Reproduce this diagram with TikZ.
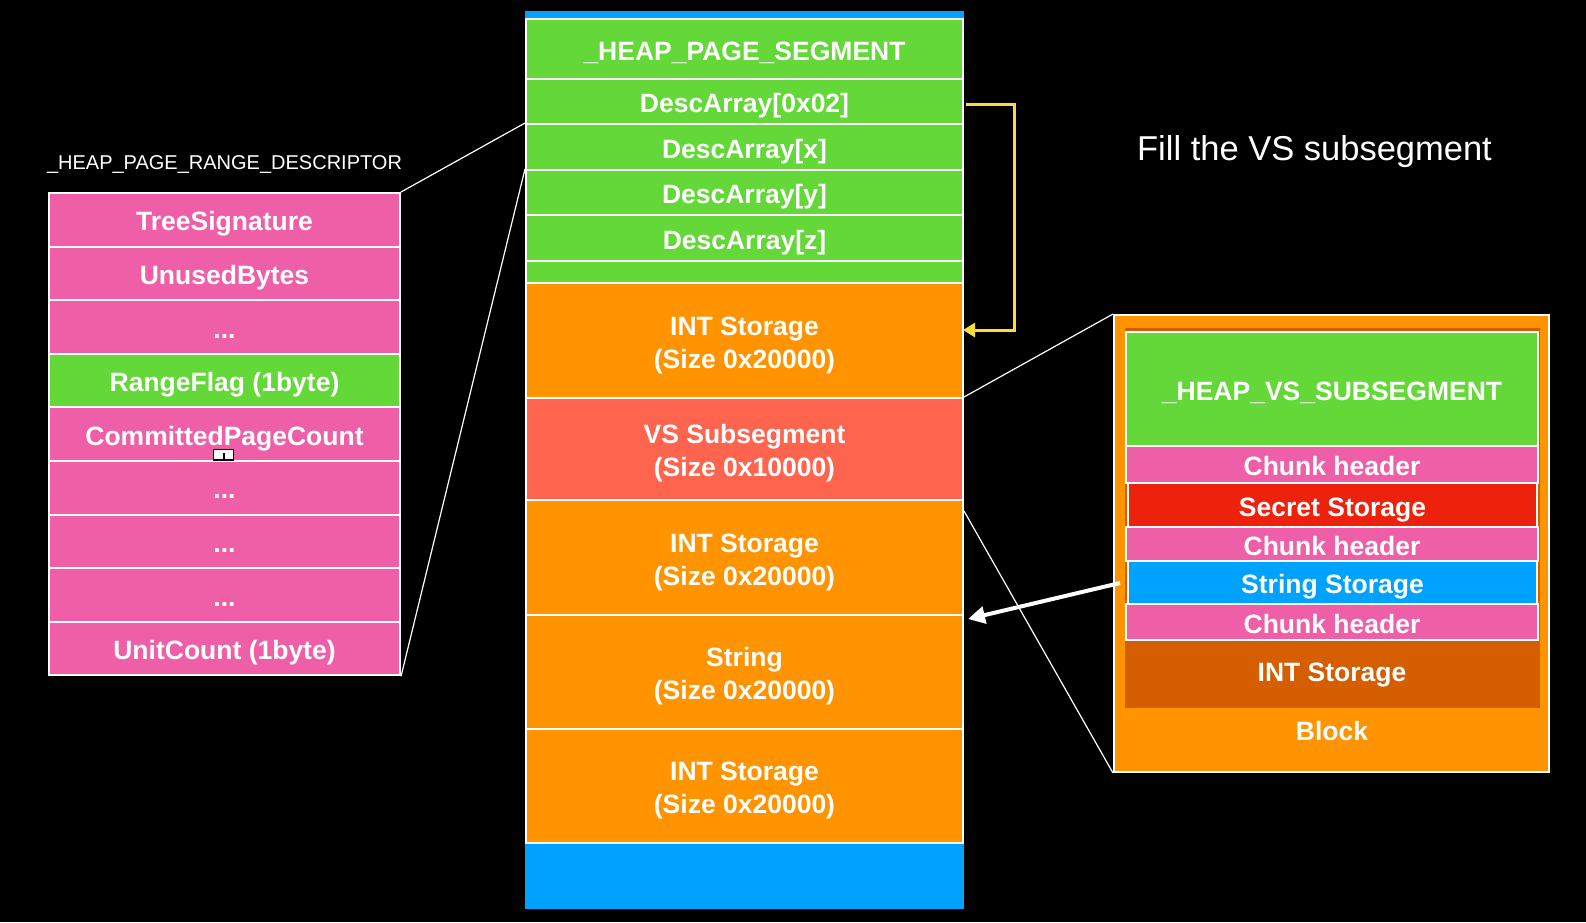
\documentclass[tikz,border=0pt]{standalone}
\usepackage{fontspec}
\setmainfont{Liberation Sans}
\usetikzlibrary{arrows.meta,calc}
\definecolor{cgreen}{HTML}{63D838}
\definecolor{cpink}{HTML}{EF5FA7}
\definecolor{corange}{HTML}{FF9300}
\definecolor{cblue}{HTML}{00A2FF}
\definecolor{csalmon}{HTML}{FF644E}
\definecolor{cred}{HTML}{EE220C}
\definecolor{cdark}{HTML}{D55E00}
\definecolor{cyellow}{HTML}{FCDC3A}
\newcommand\lbl{\bfseries\fontsize{26.5}{33}\selectfont}
\newcommand\T[1]{\raisebox{0pt}[\height][\dimexpr\depth-9pt\relax]{\begin{tabular}{@{}c@{}}#1\end{tabular}}}
\tikzset{
  box/.style={draw=white, line width=2pt, inner sep=0pt, text=white, font=\lbl},
  ccell/.style={box, minimum width=437pt},
  lcell/.style={box, minimum width=351pt, minimum height=53.6pt, fill=cpink},
  rcell/.style={box, minimum width=412pt, fill=cpink},
  rcellb/.style={box, minimum width=409pt},
  link/.style={draw=white, line width=1.2pt},
  bigarrow/.style={draw=white, line width=4pt, -{Triangle[length=17pt,width=17pt]}},
  yarrow/.style={draw=cyellow, line width=3pt, -{Triangle[length=12pt,width=14pt]}},
}
\begin{document}
\begin{tikzpicture}[x=1pt,y=-1pt]
\fill[black] (0,0) rectangle (1586,922);
\useasboundingbox (0,0) rectangle (1586,922);

% ---- centre column ----
\fill[cblue] (525,11) rectangle (964,909);
\node[ccell, fill=cgreen, minimum height=60pt] (hps) at (744.5,49) {\T{\_HEAP\_PAGE\_SEGMENT}};
\node[ccell, fill=cgreen, minimum height=45pt] (d0) at (744.5,101.5) {\T{DescArray[0x02]}};
\node[ccell, fill=cgreen, minimum height=46pt] (dx) at (744.5,147) {\T{DescArray[x]}};
\node[ccell, fill=cgreen, minimum height=45pt] (dy) at (744.5,192.5) {\T{DescArray[y]}};
\node[ccell, fill=cgreen, minimum height=46pt] (dz) at (744.5,238) {\T{DescArray[z]}};
\node[ccell, fill=cgreen, minimum height=22pt] (dg) at (744.5,272) {};
\node[ccell, fill=corange, minimum height=115pt] (int1) at (744.5,340.5) {\T{INT Storage\\(Size 0x20000)}};
\node[ccell, fill=csalmon, minimum height=102pt] (vs) at (744.5,449) {\T{VS Subsegment\\(Size 0x10000)}};
\node[ccell, fill=corange, minimum height=115pt] (int2) at (744.5,557.5) {\T{INT Storage\\(Size 0x20000)}};
\node[ccell, fill=corange, minimum height=114pt] (str) at (744.5,672) {\T{String\\(Size 0x20000)}};
\node[ccell, fill=corange, minimum height=114pt] (int3) at (744.5,786) {\T{INT Storage\\(Size 0x20000)}};

% ---- left descriptor ----
\node[text=white, font=\fontsize{20}{24}\selectfont] (ltitle) at (224.5,164) {\_HEAP\_PAGE\_RANGE\_DESCRIPTOR};
\node[lcell] (l1) at (224.5,219.8) {\T{TreeSignature}};
\node[lcell] (l2) at (224.5,273.4) {\T{UnusedBytes}};
\node[lcell] (l3) at (224.5,327.0) {\T{...}};
\node[lcell, fill=cgreen] (l4) at (224.5,380.6) {\T{RangeFlag (1byte)}};
\node[lcell] (l5) at (224.5,434.2) {\T{CommittedPageCount}};
\node[lcell] (l6) at (224.5,487.8) {\T{...}};
\node[lcell] (l7) at (224.5,541.4) {\T{...}};
\node[lcell] (l8) at (224.5,595.0) {\T{...}};
\node[lcell] (l9) at (224.5,648.6) {\T{UnitCount (1byte)}};
\draw[black, fill=white, line width=1.5pt] (213.5,449.5) rectangle (233.5,460);
\draw[black, line width=2pt] (223.5,453) -- (223.5,460);

% ---- right panel ----
\node[draw=white, line width=2pt, fill=corange, minimum width=435pt, minimum height=457pt, inner sep=0pt] (rp) at (1331.5,543.5) {};
\fill[cdark] (1125,328) rectangle (1540,708);
\node[rcell, fill=cgreen, minimum height=114pt] (vsh) at (1332,389) {\T{\_HEAP\_VS\_SUBSEGMENT}};
\node[rcell, minimum height=37pt] (ch1) at (1332,464.5) {\T{Chunk header}};
\node[rcellb, fill=cred, minimum height=44pt] (sec) at (1332.5,505) {\T{Secret Storage}};
\node[rcell, minimum height=34pt] (ch2) at (1332,544) {\T{Chunk header}};
\node[rcellb, fill=cblue, minimum height=43pt] (sst) at (1332.5,582.5) {\T{String Storage}};
\node[rcell, minimum height=36pt] (ch3) at (1332,622) {\T{Chunk header}};
\node[text=white, font=\lbl] (ist) at (1332,675) {INT Storage};
\node[text=white, font=\lbl] (blk) at (1332,731) {Block};

\node[text=white, font=\fontsize{34.5}{40}\selectfont, anchor=base] (fill) at (1314.5,160) {Fill the VS subsegment};

% ---- connectors ----
\draw[link] (l1.north east) -- (dx.north west);
\draw[link] (l9.south east) -- (dy.north west);
\draw[link] (vs.north east) -- (rp.north west);
\draw[link] ($(vs.south east)+(0,10)$) -- (rp.south west);
\coordinate (as) at (1120,583);
\coordinate (ae) at (968,619);
\draw[bigarrow] (as) -- (ae);
\coordinate (y1) at (966,104);
\coordinate (y2) at (1014,104);
\coordinate (y3) at (1014,330);
\coordinate (y4) at (963,330);
\draw[yarrow] (y1) -- (y2) -- (y3) -- (y4);
\end{tikzpicture}
\end{document}
